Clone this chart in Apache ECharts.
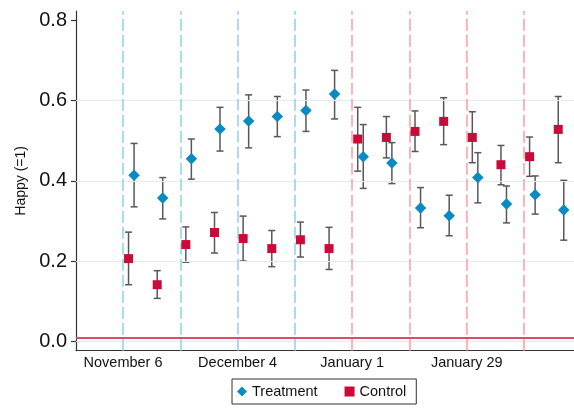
<!DOCTYPE html>
<html>
<head>
<meta charset="utf-8">
<script src="https://cdn.jsdelivr.net/npm/echarts@6/dist/echarts.min.js"></script>
<style>
html,body{margin:0;padding:0;background:#fff;}
#chart{width:574px;height:409px;}
</style>
</head>
<body>
<div id="chart"></div>
<script>
// Week start (days since November 6)
var weekStart = [0,7,14,21,28,35,42,49,56,63,70,77,84,91,98,105];

var treatment   = [0.414,0.357,0.455,0.529,0.549,0.560,0.575,0.616,0.460,0.444,0.332,0.313,0.408,0.342,0.365,0.327];
var treatmentLo = [0.335,0.305,0.404,0.474,0.482,0.510,0.523,0.554,0.381,0.393,0.283,0.263,0.345,0.295,0.317,0.252];
var treatmentHi = [0.493,0.408,0.504,0.583,0.614,0.610,0.626,0.675,0.540,0.495,0.383,0.364,0.470,0.387,0.412,0.401];

var control   = [0.206,0.141,0.241,0.271,0.256,0.231,0.253,0.231,0.504,0.508,0.523,0.548,0.508,0.440,0.460,0.528];
var controlLo = [0.141,0.107,0.197,0.220,0.200,0.186,0.210,0.179,0.424,0.457,0.473,0.490,0.445,0.390,0.411,0.445];
var controlHi = [0.272,0.176,0.285,0.321,0.312,0.276,0.297,0.284,0.583,0.560,0.574,0.607,0.572,0.488,0.509,0.610];

var xTickDays   = [0,28,56,84];
var xTickLabels = ['November 6','December 4','January 1','January 29'];
var yTicks      = [0,0.2,0.4,0.6,0.8];
var blueLineDays = [0,14,28,42];
var redLineDays  = [56,70,84,98];
var refLineY     = 0.009;

var FONT = '"Liberation Sans", Arial, Helvetica, sans-serif';
var CTRL_OFF = 1.35, TRT_OFF = 2.7;

function pts(vals, off){ return vals.map(function(v,i){ return [weekStart[i]+off, v]; }); }
function bars(lo, hi, off){ return lo.map(function(l,i){ return [weekStart[i]+off, l, hi[i]]; }); }

function errRender(params, api){
  var x = api.value(0);
  var lo = api.coord([x, api.value(1)]);
  var hi = api.coord([x, api.value(2)]);
  var cw = 3.5;
  var st = {stroke:'#585858', lineWidth:1.5, fill:null};
  return {type:'group', children:[
    {type:'line', shape:{x1:lo[0],y1:lo[1],x2:hi[0],y2:hi[1]}, style:st},
    {type:'line', shape:{x1:lo[0]-cw,y1:lo[1],x2:lo[0]+cw,y2:lo[1]}, style:st},
    {type:'line', shape:{x1:hi[0]-cw,y1:hi[1],x2:hi[0]+cw,y2:hi[1]}, style:st}
  ]};
}

var chart = echarts.init(document.getElementById('chart'), null, {renderer:'canvas'});
var vlines = blueLineDays.map(function(d){ return {xAxis:d, lineStyle:{color:'#92d0e4'}}; })
  .concat(redLineDays.map(function(d){ return {xAxis:d, lineStyle:{color:'#ff9d9d'}}; }));
var glines = yTicks.slice(0, yTicks.length-1).map(function(v){ return {yAxis:v}; });

chart.setOption({
  animation:false,
  backgroundColor:'#fff',
  textStyle:{fontFamily:FONT},
  grid:{left:76, right:0, top:11, bottom:58.3, containLabel:false},
  xAxis:{
    type:'value', min:-11.49, max:110.2,
    axisLine:{onZero:false, lineStyle:{color:'#333', width:1.2}},
    axisTick:{show:false},
    splitLine:{show:false},
    axisLabel:{customValues:xTickDays, margin:5, fontSize:14.5, color:'#111', fontFamily:FONT,
      formatter:function(v){ var i=xTickDays.indexOf(v); return i>=0?xTickLabels[i]:''; }}
  },
  yAxis:{
    type:'value', min:-0.0234, max:0.823,
    name:'Happy (=1)', nameLocation:'middle', nameGap:48, nameRotate:90,
    nameTextStyle:{fontSize:14, color:'#111', fontFamily:FONT},
    axisLine:{onZero:false, lineStyle:{color:'#333', width:1.2}},
    axisTick:{show:true, customValues:yTicks, length:5, lineStyle:{color:'#333', width:1.2}},
    splitLine:{show:false},
    axisLabel:{customValues:yTicks, margin:9, fontSize:20, color:'#111', fontFamily:FONT,
      formatter:function(v){ return v.toFixed(1); }}
  },
  legend:{
    left:232, top:379, orient:'horizontal',
    padding:[5,10,5,5], itemGap:27, itemWidth:10, itemHeight:10,
    borderColor:'#333', borderWidth:1, borderRadius:0,
    textStyle:{fontSize:14.5, color:'#111', fontFamily:FONT},
    data:[{name:'Treatment', icon:'diamond'},{name:'Control', icon:'rect'}]
  },
  series:[
    {type:'line', name:'grid', data:[], silent:true, z:0,
      markLine:{silent:true, symbol:'none', label:{show:false}, animation:false,
        lineStyle:{color:'#e2ecee', width:1.2, type:'solid'}, data:glines}},
    {type:'line', name:'vlines', data:[], silent:true, z:1,
      markLine:{silent:true, symbol:'none', label:{show:false}, animation:false,
        lineStyle:{width:1.5, type:[12,4]}, data:vlines}},
    {type:'line', name:'ref', data:[], silent:true, z:2,
      markLine:{silent:true, symbol:'none', label:{show:false}, animation:false,
        lineStyle:{color:'#d4506c', width:2, type:'solid'}, data:[{yAxis:refLineY}]}},
    {type:'custom', name:'tErr', renderItem:errRender, data:bars(treatmentLo, treatmentHi, TRT_OFF), z:3, silent:true},
    {type:'custom', name:'cErr', renderItem:errRender, data:bars(controlLo, controlHi, CTRL_OFF), z:3, silent:true},
    {type:'scatter', name:'Treatment', symbol:'diamond', symbolSize:11.5, data:pts(treatment, TRT_OFF),
      itemStyle:{color:'#0a8ac2', opacity:1}, z:5},
    {type:'scatter', name:'Control', symbol:'rect', symbolSize:9, data:pts(control, CTRL_OFF),
      itemStyle:{color:'#c80b38', opacity:1}, z:5}
  ]
});
</script>
</body>
</html>
